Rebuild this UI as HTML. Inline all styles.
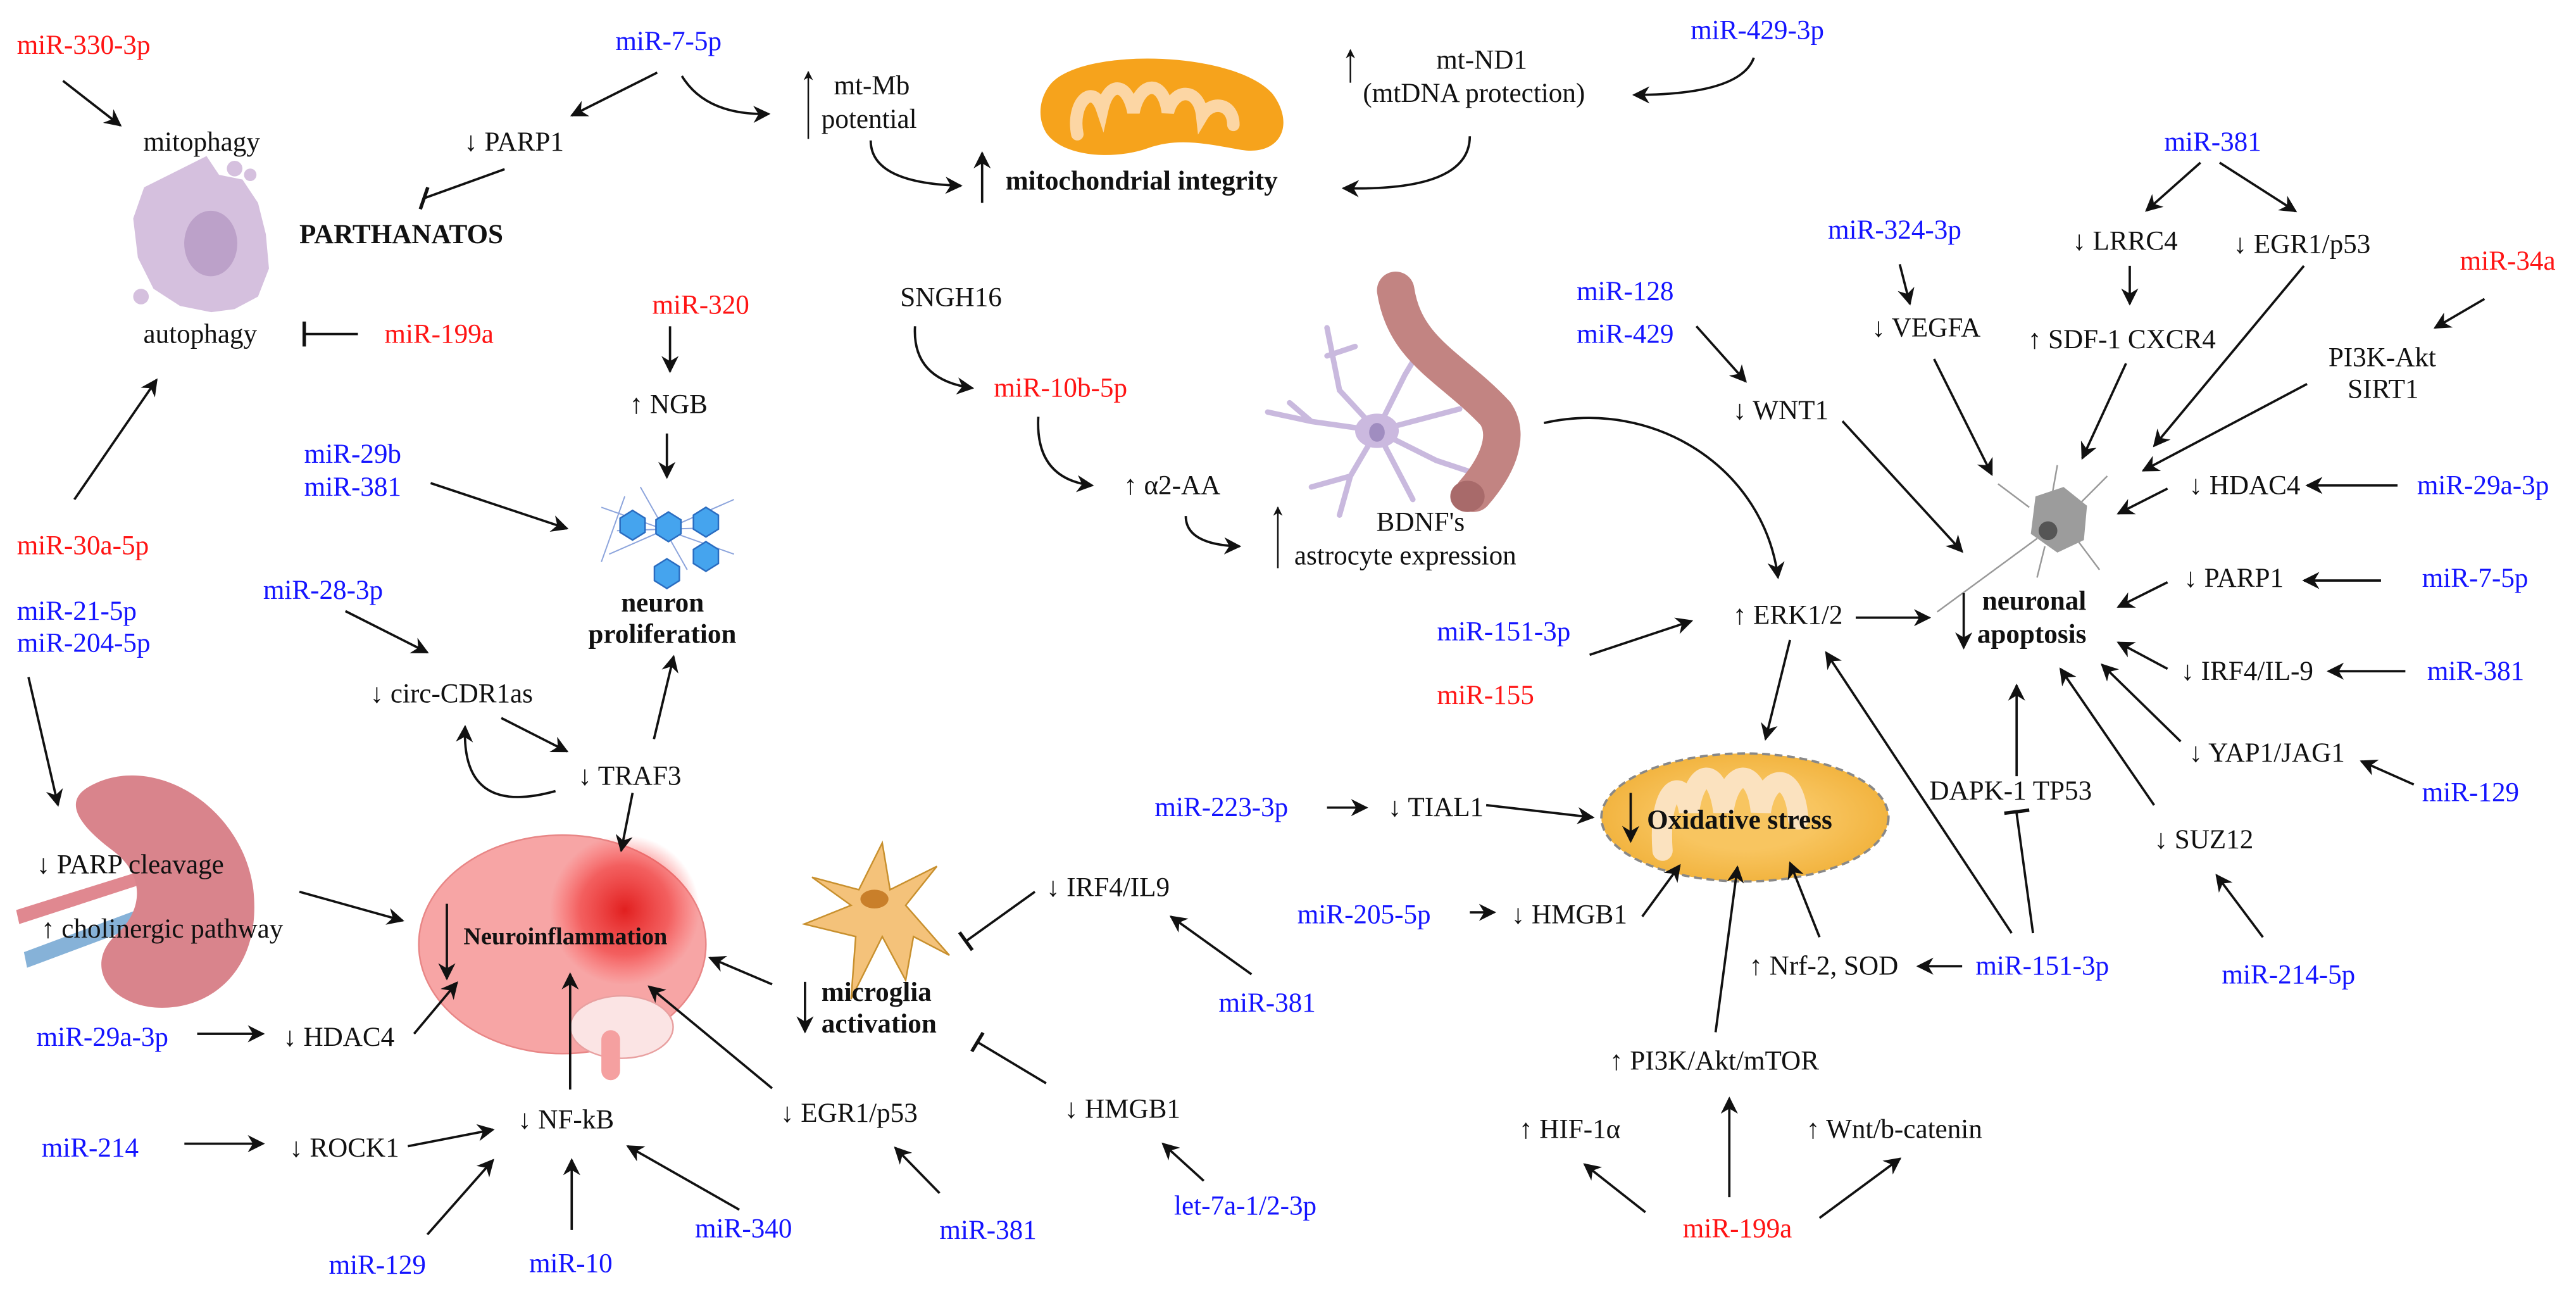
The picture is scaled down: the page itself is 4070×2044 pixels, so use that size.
<!DOCTYPE html>
<html><head><meta charset="utf-8"><style>
html,body{margin:0;padding:0;background:#fff;width:4070px;height:2044px;overflow:hidden}
svg{display:block}
text{font-family:"Liberation Serif",serif;font-size:17.5px;fill:#111}
.b{fill:#1414ff}.r{fill:#ff1414}.bd{font-weight:bold}
.l{stroke:#111;stroke-width:1.5;fill:none}
.t{stroke:#111;stroke-width:1;fill:none}
</style></head><body>
<svg width="4070" height="2044" viewBox="0 0 1650 829" xmlns="http://www.w3.org/2000/svg">
<defs>
<marker id="a" viewBox="0 0 10 10" refX="9" refY="5" markerWidth="11" markerHeight="11" orient="auto" markerUnits="userSpaceOnUse"><path d="M0,0 L10,5 L0,10 L3,5z" fill="#111"/></marker>
<marker id="s" viewBox="0 0 10 10" refX="9" refY="5" markerWidth="6" markerHeight="6" orient="auto" markerUnits="userSpaceOnUse"><path d="M0,0 L10,5 L0,10 L3,5z" fill="#111"/></marker>
<radialGradient id="glow"><stop offset="0" stop-color="#e01818" stop-opacity=".95"/><stop offset="0.6" stop-color="#f03030" stop-opacity=".6"/><stop offset="1" stop-color="#ff4040" stop-opacity="0"/></radialGradient>
<radialGradient id="ox"><stop offset="0.5" stop-color="#f8c560"/><stop offset="1" stop-color="#f2b440"/></radialGradient>
</defs>

<!-- cell -->
<path d="M132,100 L140,112 L155,115 L165,130 L170,150 L172,172 L165,190 L150,198 L135,200 L115,196 L98,185 L88,165 L85,140 L92,120 L112,110 Z" fill="#d5c0de"/>
<ellipse cx="134.7" cy="156" rx="17" ry="21" fill="#bca1c9"/>
<circle cx="150" cy="108" r="5" fill="#d5c0de"/><circle cx="160" cy="112" r="4" fill="#d5c0de"/><circle cx="90" cy="190" r="5" fill="#d5c0de"/>
<!-- mitochondrion top -->
<path d="M672,55 C690,30 790,32 815,60 C830,80 820,100 795,96 C772,92 755,88 735,95 C712,103 680,100 670,85 C664,75 666,63 672,55Z" fill="#f6a31c"/>
<path d="M690,86 C686,66 700,52 706,70 C710,52 722,52 726,72 C730,52 745,50 748,72 C752,56 768,56 770,74 C776,64 790,66 790,80" stroke="#fcd6a4" stroke-width="8" fill="none" stroke-linecap="round"/>
<!-- neuron network -->
<g stroke="#8ca4dc" stroke-width="0.8">
<path d="M385,325 L470,355 M390,355 L470,320 M410,312 L440,365 M395,340 L460,338 M400,318 L385,360"/>
</g>
<g fill="#45a4ee" stroke="#2a6cc0" stroke-width="1">
<polygon points="397,332 405,327 413,332 413,341 405,346 397,341"/>
<polygon points="420,333 428,328 436,333 436,342 428,347 420,342"/>
<polygon points="444,330 452,325 460,330 460,339 452,344 444,339"/>
<polygon points="444,352 452,347 460,352 460,361 452,366 444,361"/>
<polygon points="419,363 427,358 435,363 435,372 427,377 419,372"/>
</g>
<!-- vessel & astrocyte -->
<g stroke="#c9b9de" stroke-width="3.5" fill="none" stroke-linecap="round">
<path d="M882,276 L840,270 L812,264 M840,270 L826,258 M882,276 L858,250 L850,210 M850,228 L868,222 M882,276 L900,240 L915,215 M882,276 L935,262 M882,276 L920,295 L950,305 M882,276 L865,305 L858,330 M865,305 L840,312 M882,276 L905,320"/>
</g>
<path d="M894,186 C900,225 930,235 958,265 C968,280 958,300 944,316" stroke="#c28482" stroke-width="24" fill="none" stroke-linecap="round"/>
<ellipse cx="940" cy="318" rx="11" ry="10" fill="#a86a6a"/>
<ellipse cx="882" cy="276" rx="14" ry="11" fill="#cbb9df"/><ellipse cx="882" cy="277" rx="5" ry="6" fill="#a08dc0"/>
<!-- organ -->
<path d="M10,583 L90,558 L92,566 L12,592Z" fill="#e08890"/>
<path d="M15,610 L90,582 L92,592 L17,620Z" fill="#86b2d8"/>
<path d="M55,505 C95,480 155,515 162,570 C168,625 130,650 95,645 C65,640 55,615 75,598 C92,582 92,560 72,545 C52,530 40,515 55,505Z" fill="#d9848c"/>
<!-- brain -->
<ellipse cx="360" cy="605" rx="92" ry="70" fill="#f7a5a5" stroke="#e88686"/>
<ellipse cx="398" cy="658" rx="33" ry="20" fill="#fbe4e4" stroke="#e8a0a0"/>
<rect x="385" y="660" width="12" height="32" rx="6" fill="#f5a0a0"/>
<circle cx="400" cy="583" r="48" fill="url(#glow)"/>
<!-- microglia -->
<path d="M565,540 L570,570 L600,555 L580,580 L608,612 L585,600 L580,628 L565,600 L545,640 L548,600 L515,592 L545,580 L520,562 L550,570Z" fill="#f4c27a" stroke="#c8902e"/>
<ellipse cx="560" cy="576" rx="9" ry="6" fill="#c97f2a"/>
<!-- neuron gray -->
<g stroke="#999" stroke-width="1" fill="none"><path d="M1300,325 L1280,310 M1330,325 L1350,305 M1315,315 L1318,298 M1305,345 L1241,392 M1330,345 L1345,365 M1310,350 L1305,370"/></g>
<polygon points="1304,318 1322,312 1337,324 1335,346 1318,354 1301,342" fill="#9c9c9c"/>
<circle cx="1312" cy="340" r="6" fill="#555"/>
<!-- oxidative stress -->
<ellipse cx="1117.8" cy="523.7" rx="92" ry="41" fill="url(#ox)" stroke="#888" stroke-width="1.5" stroke-dasharray="5,3"/>
<path d="M1065,545 C1062,505 1078,495 1082,520 C1086,492 1100,490 1104,520 C1108,492 1125,490 1128,520 C1132,494 1150,494 1152,525" stroke="#fbe2bf" stroke-width="13" fill="none" stroke-linecap="round"/>

<!-- texts -->
<text x="10.5" y="34.5" class="r">miR-330-3p</text>
<text x="394" y="32" class="b">miR-7-5p</text>
<text x="91.5" y="96.5">mitophagy</text>
<text x="297" y="96.5">↓ PARP1</text>
<text x="534" y="60.5">mt-Mb</text><text x="526" y="82">potential</text>
<text x="644" y="121.5" class="bd">mitochondrial integrity</text>
<text x="920" y="44">mt-ND1</text><text x="873" y="65.3">(mtDNA protection)</text>
<text x="1083" y="25" class="b">miR-429-3p</text>
<text x="191.5" y="155.7" class="bd">PARTHANATOS</text>
<text x="91.5" y="219.7">autophagy</text>
<text x="246" y="219.7" class="r">miR-199a</text>
<text x="417.6" y="201" class="r">miR-320</text>
<text x="403" y="264.7">↑ NGB</text>
<text x="397.6" y="391.7" class="bd">neuron</text><text x="376.6" y="411.8" class="bd">proliferation</text>
<text x="194.6" y="296.4" class="b">miR-29b</text><text x="194.6" y="317.6" class="b">miR-381</text>
<text x="10.5" y="355" class="r">miR-30a-5p</text>
<text x="10.5" y="397" class="b">miR-21-5p</text><text x="10.5" y="417.6" class="b">miR-204-5p</text>
<text x="168.3" y="383.7" class="b">miR-28-3p</text>
<text x="236.7" y="450">↓ circ-CDR1as</text>
<text x="370" y="502.8">↓ TRAF3</text>
<text x="23" y="559.4">↓ PARP cleavage</text>
<text x="26" y="600.6">↑ cholinergic pathway</text>
<text x="296.7" y="605" class="bd" style="font-size:15.5px">Neuroinflammation</text>
<text x="23" y="670" class="b">miR-29a-3p</text>
<text x="181" y="670">↓ HDAC4</text>
<text x="26.3" y="741" class="b">miR-214</text>
<text x="185" y="741">↓ ROCK1</text>
<text x="331.4" y="723">↓ NF-kB</text>
<text x="210.4" y="816" class="b">miR-129</text>
<text x="338.7" y="815" class="b">miR-10</text>
<text x="445" y="792.6" class="b">miR-340</text>
<text x="499.7" y="718.6">↓ EGR1/p53</text>
<text x="601.7" y="793.7" class="b">miR-381</text>
<text x="526" y="641.3" class="bd">microglia</text><text x="526" y="661.5" class="bd">activation</text>
<text x="670" y="574">↓ IRF4/IL9</text>
<text x="780.6" y="648.2" class="b">miR-381</text>
<text x="681.7" y="716">↓ HMGB1</text>
<text x="752" y="778" class="b">let-7a-1/2-3p</text>
<text x="576.5" y="196">SNGH16</text>
<text x="636.5" y="254" class="r">miR-10b-5p</text>
<text x="719.6" y="316.6">↑ α2-AA</text>
<text x="881.6" y="340">BDNF's</text><text x="829" y="361.5">astrocyte expression</text>
<text x="1010" y="192.3" class="b">miR-128</text><text x="1010" y="219.7" class="b">miR-429</text>
<text x="1110" y="268.4">↓ WNT1</text>
<text x="1171" y="153" class="b">miR-324-3p</text>
<text x="1199" y="215.5">↓ VEGFA</text>
<text x="1386.5" y="96.5" class="b">miR-381</text>
<text x="1327.6" y="160">↓ LRRC4</text>
<text x="1430.7" y="162">↓ EGR1/p53</text>
<text x="1299" y="223">↑ SDF-1 CXCR4</text>
<text x="1576" y="172.7" class="r">miR-34a</text>
<text x="1491.7" y="234.6">PI3K-Akt</text><text x="1504" y="255">SIRT1</text>
<text x="1402.3" y="316.6">↓ HDAC4</text><text x="1548.5" y="316.6" class="b">miR-29a-3p</text>
<text x="1399" y="376">↓ PARP1</text><text x="1551.7" y="376" class="b">miR-7-5p</text>
<text x="1269.8" y="390.6" class="bd">neuronal</text><text x="1266.6" y="411.8" class="bd">apoptosis</text>
<text x="1397" y="435.6">↓ IRF4/IL-9</text><text x="1555" y="435.6" class="b">miR-381</text>
<text x="1402.3" y="488">↓ YAP1/JAG1</text><text x="1551.7" y="513.3" class="b">miR-129</text>
<text x="1380" y="543.5">↓ SUZ12</text>
<text x="1423.4" y="630" class="b">miR-214-5p</text>
<text x="1236" y="512.3">DAPK-1 TP53</text>
<text x="1265.6" y="624.4" class="b">miR-151-3p</text>
<text x="1120.4" y="624.4">↑ Nrf-2, SOD</text>
<text x="1110" y="399.6">↑ ERK1/2</text>
<text x="920.5" y="410.2" class="b">miR-151-3p</text>
<text x="920.5" y="451" class="r">miR-155</text>
<text x="1055" y="530.8" class="bd">Oxidative stress</text>
<text x="739.6" y="522.8" class="b">miR-223-3p</text>
<text x="889" y="522.8">↓ TIAL1</text>
<text x="831" y="591.6" class="b">miR-205-5p</text>
<text x="968" y="591.6">↓ HMGB1</text>
<text x="1031" y="685.3">↑ PI3K/Akt/mTOR</text>
<text x="973" y="729">↑ HIF-1α</text>
<text x="1157" y="729">↑ Wnt/b-catenin</text>
<text x="1078" y="792.6" class="r">miR-199a</text>

<!-- thin up arrows -->
<line x1="517.6" y1="89" x2="517.6" y2="46" class="t" marker-end="url(#s)"/>
<line x1="865" y1="53" x2="865" y2="32" class="t" marker-end="url(#s)"/>
<line x1="818.5" y1="364" x2="818.5" y2="325" class="t" marker-end="url(#s)"/>
<!-- bold up/down arrows -->
<line x1="629" y1="130" x2="629" y2="98" class="l" stroke-width="2.2" marker-end="url(#a)"/>
<line x1="286" y1="579" x2="286" y2="627" class="l" stroke-width="2.2" marker-end="url(#a)"/>
<line x1="515.5" y1="629" x2="515.5" y2="661" class="l" stroke-width="2.2" marker-end="url(#a)"/>
<line x1="1258" y1="380" x2="1258" y2="415" class="l" stroke-width="2.2" marker-end="url(#a)"/>
<line x1="1044.6" y1="508" x2="1044.6" y2="539" class="l" stroke-width="2.2" marker-end="url(#a)"/>

<!-- connectors -->
<g class="l" marker-end="url(#a)">
<line x1="40" y1="51.8" x2="76.8" y2="80.4"/>
<line x1="420.8" y1="46.5" x2="366" y2="74"/>
<path d="M436.6,48.7 Q452,74 492.3,73"/>
<path d="M557.6,90 Q557.6,117.4 615.4,119"/>
<path d="M941.5,87.3 Q941.5,122.7 860.5,120.6"/>
<path d="M1123.5,37 Q1115,60.8 1046.7,60.8"/>
<line x1="47.3" y1="320" x2="100" y2="243.3"/>
<line x1="429" y1="209" x2="429" y2="238"/>
<line x1="427" y1="277.7" x2="427" y2="305.8"/>
<line x1="275.6" y1="309.5" x2="363" y2="338.6"/>
<line x1="221" y1="391.5" x2="273.5" y2="418"/>
<line x1="17.9" y1="433.8" x2="36.8" y2="515.8"/>
<line x1="320.9" y1="460" x2="363" y2="481.4"/>
<path d="M355.6,506.8 Q295,523.7 297.7,465.5"/>
<line x1="418.7" y1="473.5" x2="431.3" y2="420.6"/>
<line x1="405" y1="508" x2="397.7" y2="545"/>
<line x1="191.5" y1="571.3" x2="257.7" y2="589.8"/>
<line x1="126" y1="662.3" x2="168.3" y2="662.3"/>
<line x1="265" y1="662.3" x2="292.5" y2="629.5"/>
<line x1="117.8" y1="732.7" x2="168.3" y2="732.7"/>
<line x1="261" y1="734.3" x2="315.6" y2="723.7"/>
<line x1="365" y1="698" x2="365" y2="624"/>
<line x1="273.5" y1="790.9" x2="315.6" y2="743.2"/>
<line x1="366" y1="788" x2="366" y2="743"/>
<line x1="473.4" y1="775" x2="401.9" y2="734.3"/>
<line x1="494.4" y1="697.2" x2="415.5" y2="632"/>
<line x1="601.7" y1="764.4" x2="573.3" y2="735.3"/>
<line x1="494.4" y1="630.6" x2="454.5" y2="613.6"/>
<line x1="801.6" y1="624.2" x2="750" y2="587.2"/>
<line x1="771" y1="756.5" x2="744.8" y2="732.7"/>
<path d="M586,209 Q584,243.3 622.8,248.6"/>
<path d="M665,267 Q662.8,306.8 699.6,311"/>
<path d="M759.5,330.6 Q759.5,349 794,350"/>
<line x1="1086.7" y1="209" x2="1118.3" y2="244.4"/>
<line x1="1180.3" y1="269.8" x2="1257" y2="353.4"/>
<path d="M989,271 C1060,255 1130,300 1139,370"/>
<line x1="1217" y1="169.3" x2="1223.5" y2="194.7"/>
<line x1="1239" y1="230" x2="1276" y2="304"/>
<line x1="1409.7" y1="104.2" x2="1375" y2="135"/>
<line x1="1422" y1="104.2" x2="1470.7" y2="135.4"/>
<line x1="1364.4" y1="170.3" x2="1364.4" y2="194.7"/>
<line x1="1476" y1="170.3" x2="1380" y2="285.7"/>
<line x1="1362" y1="232.8" x2="1334" y2="293.6"/>
<line x1="1591.7" y1="191.5" x2="1560" y2="210"/>
<line x1="1478" y1="246" x2="1373" y2="301.5"/>
<line x1="1388.6" y1="313" x2="1357" y2="329"/>
<line x1="1536" y1="311" x2="1478" y2="311"/>
<line x1="1388.6" y1="373" x2="1357" y2="388.8"/>
<line x1="1525.4" y1="371.9" x2="1476" y2="371.9"/>
<line x1="1388.6" y1="428.5" x2="1357" y2="411.6"/>
<line x1="1541" y1="430" x2="1491.7" y2="430"/>
<line x1="1397" y1="475" x2="1346.6" y2="425.8"/>
<line x1="1546.4" y1="502.6" x2="1512.8" y2="487.7"/>
<line x1="1380" y1="515.8" x2="1320" y2="428.5"/>
<line x1="1449.7" y1="600.4" x2="1420" y2="560.7"/>
<line x1="1291.9" y1="497.3" x2="1291.9" y2="439"/>
<line x1="1288.7" y1="597.8" x2="1169.8" y2="418"/>
<line x1="1257" y1="619" x2="1228.7" y2="619"/>
<line x1="1165.6" y1="600.4" x2="1146.7" y2="552.8"/>
<line x1="1188.8" y1="395.7" x2="1236" y2="395.7"/>
<line x1="1146.7" y1="410" x2="1131" y2="473.5"/>
<line x1="1018.3" y1="419.5" x2="1083.6" y2="397.8"/>
<line x1="850" y1="517.4" x2="875.3" y2="517.4"/>
<line x1="952" y1="515.8" x2="1020.4" y2="523.7"/>
<line x1="941.5" y1="584.5" x2="957.3" y2="584.5"/>
<line x1="1052" y1="587.2" x2="1076" y2="554.4"/>
<line x1="1099" y1="661.3" x2="1113" y2="555.5"/>
<line x1="1054" y1="776.6" x2="1015" y2="745.9"/>
<line x1="1107.8" y1="767" x2="1107.8" y2="703.6"/>
<line x1="1165.6" y1="780.3" x2="1217.2" y2="742.2"/>
</g>
<!-- inhibitions -->
<g class="l">
<line x1="323" y1="108.4" x2="271.4" y2="127"/><line x1="273.8" y1="120" x2="269" y2="134" stroke-width="2.2"/>
<line x1="229" y1="214" x2="194.6" y2="214"/><line x1="194.6" y1="206" x2="194.6" y2="222" stroke-width="2.2"/>
<line x1="662.8" y1="571.3" x2="618.6" y2="603"/><line x1="614.5" y1="597.3" x2="622.7" y2="608.7" stroke-width="2.2"/>
<line x1="670" y1="694" x2="626" y2="667.6"/><line x1="629.6" y1="661.6" x2="622.4" y2="673.6" stroke-width="2.2"/>
<line x1="1302.4" y1="597.8" x2="1291.9" y2="521"/><line x1="1284" y1="521" x2="1300" y2="519" stroke-width="2.2"/>
</g>
</svg>
</body></html>
